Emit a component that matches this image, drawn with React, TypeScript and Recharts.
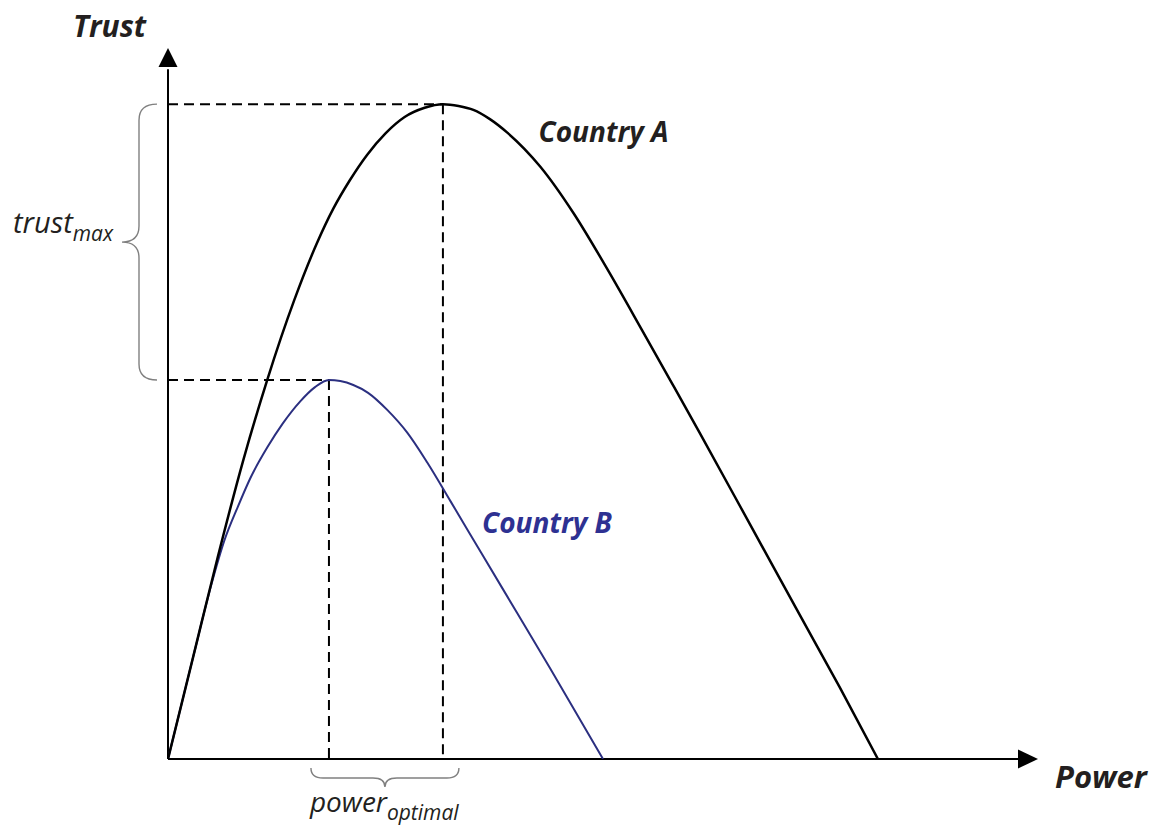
import { LineChart, Line, XAxis, YAxis, ReferenceLine, ReferenceDot } from 'recharts';

// values (power 0-100 along the x arrow, trust 0-100 up the y arrow)
const countryAPower = [0, 2.9, 5.7, 8.6, 11.4, 14.5, 17.1, 19.0, 20.9, 22.9, 25.0, 27.2, 29.5, 31.6, 33.4, 35.1, 37.0, 39.0, 42.8, 46.6, 50.5, 54.5, 57.9, 61.1, 66.9, 72.6, 77.2, 81.6];
const countryATrust = [0, 14.4, 28.3, 41.8, 53.3, 64.5, 72.5, 77.4, 81.4, 85.0, 88.0, 90.3, 91.6, 92.1, 91.85, 91.3, 90.0, 88.1, 83.3, 76.8, 68.9, 60.3, 52.9, 45.9, 33.0, 20.3, 10.1, 0];
const countryBPower = [0, 2.9, 5.0, 6.5, 8.0, 9.5, 11.4, 13.2, 15.2, 16.9, 18.5, 19.8, 21.3, 23.0, 25.2, 27.5, 29.8, 32.5, 36.0, 40.1, 43.9, 50.0];
const countryBTrust = [0, 14.4, 24.6, 30.8, 35.4, 39.6, 43.8, 47.2, 50.3, 52.3, 53.3, 53.15, 52.6, 51.5, 49.1, 45.9, 41.7, 36.2, 29.0, 20.6, 12.8, 0];

const peakA = { power: 31.6, trust: 92.1 };
const peakB = { power: 18.5, trust: 53.3 };

const countryA = countryAPower.map((p, i) => ({ power: p, trust: countryATrust[i] }));
const countryB = countryBPower.map((p, i) => ({ power: p, trust: countryBTrust[i] }));

const FONT = "'Open Sans', sans-serif";
const TEXT = '#231f20';
const BLUE = '#2e3192';
const BRACE = '#808080';

const UpArrow = ({ cx, cy }: any) => (
  <polygon points={`${cx},${cy} ${cx - 9.5},${cy + 19} ${cx + 9.5},${cy + 19}`} fill="#000" />
);

const RightArrow = ({ cx, cy }: any) => (
  <polygon points={`${cx},${cy} ${cx - 20},${cy - 9.5} ${cx - 20},${cy + 9.5}`} fill="#000" />
);

const LeftBrace = ({ x1, y1, y2 }: any) => {
  const top = Math.min(y1, y2);
  const bottom = Math.max(y1, y2);
  const mid = (top + bottom) / 2;
  const e = x1 - 11;
  const s = x1 - 29;
  const t = x1 - 46;
  const d = `M ${e} ${top} Q ${s} ${top} ${s} ${top + 16} L ${s} ${mid - 16} Q ${s} ${mid} ${t} ${mid} Q ${s} ${mid} ${s} ${mid + 16} L ${s} ${bottom - 16} Q ${s} ${bottom} ${e} ${bottom}`;
  return <path d={d} fill="none" stroke={BRACE} strokeWidth={1.4} />;
};

const BottomBrace = ({ x1, x2, y1 }: any) => {
  const l = Math.min(x1, x2) - 18;
  const r = Math.max(x1, x2) + 16;
  const mid = (l + r) / 2;
  const yEnd = y1 + 9;
  const ySpine = y1 + 19;
  const yTip = y1 + 28;
  const d = `M ${l} ${yEnd} Q ${l} ${ySpine} ${l + 12} ${ySpine} L ${mid - 12} ${ySpine} Q ${mid} ${ySpine} ${mid} ${yTip} Q ${mid} ${ySpine} ${mid + 12} ${ySpine} L ${r - 12} ${ySpine} Q ${r} ${ySpine} ${r} ${yEnd}`;
  return <path d={d} fill="none" stroke={BRACE} strokeWidth={1.4} />;
};

const textAt = (dx: number, dy: number, content: any, style: any) => ({ cx, cy }: any) => (
  <text x={cx + dx} y={cy + dy} fontFamily={FONT} {...style}>
    {content}
  </text>
);

const TrustTitle = textAt(-95, -11, 'Trust', { fontSize: 30, fontWeight: 700, fontStyle: 'italic', fill: TEXT });
const PowerTitle = textAt(17, 29, 'Power', { fontSize: 31, fontWeight: 700, fontStyle: 'italic', fill: TEXT });
const LabelA = textAt(0, 0, 'Country A', { fontSize: 28, fontWeight: 700, fontStyle: 'italic', fill: TEXT });
const LabelB = textAt(0, 0, 'Country B', { fontSize: 28, fontWeight: 700, fontStyle: 'italic', fill: BLUE });
const TrustMax = textAt(-155, -9, [
  <tspan key="a">trust</tspan>,
  <tspan key="b" fontSize={21} dy={8}>max</tspan>,
], { fontSize: 29, fontStyle: 'italic', fill: TEXT });
const PowerOptimal = textAt(-76, 53, [
  <tspan key="a">power</tspan>,
  <tspan key="b" fontSize={21} dy={8}>optimal</tspan>,
], { fontSize: 28, fontStyle: 'italic', fill: TEXT });

const App = () => {
  return (
    <div style={{ position: 'absolute', left: 0, top: 0, width: 1163, height: 825, background: '#fff' }}>
      <LineChart width={1163} height={825} margin={{ top: 48, right: 125, bottom: 66, left: 168 }}>
        <XAxis type="number" dataKey="power" domain={[0, 100]} hide allowDataOverflow />
        <YAxis type="number" dataKey="trust" domain={[0, 100]} hide allowDataOverflow />

        {/* dashed guides from the peaks */}
        <ReferenceLine segment={[{ x: 0, y: peakA.trust }, { x: peakA.power, y: peakA.trust }]} stroke="#000" strokeWidth={2} strokeDasharray="10 6" />
        <ReferenceLine segment={[{ x: peakA.power, y: peakA.trust }, { x: peakA.power, y: 0 }]} stroke="#000" strokeWidth={2} strokeDasharray="10 6" />
        <ReferenceLine segment={[{ x: 0, y: peakB.trust }, { x: peakB.power, y: peakB.trust }]} stroke="#000" strokeWidth={2} strokeDasharray="10 6" />
        <ReferenceLine segment={[{ x: peakB.power, y: peakB.trust }, { x: peakB.power, y: 0 }]} stroke="#000" strokeWidth={2} strokeDasharray="10 6" />

        {/* axes with arrows */}
        <ReferenceLine segment={[{ x: 0, y: 0 }, { x: 0, y: 97 }]} stroke="#000" strokeWidth={2} />
        <ReferenceLine segment={[{ x: 0, y: 0 }, { x: 97.8, y: 0 }]} stroke="#000" strokeWidth={2} />
        <ReferenceDot x={0} y={100} r={0} shape={UpArrow} ifOverflow="visible" />
        <ReferenceDot x={100} y={0} r={0} shape={RightArrow} ifOverflow="visible" />

        {/* braces */}
        <ReferenceLine segment={[{ x: 0, y: peakA.trust }, { x: 0, y: peakB.trust }]} shape={LeftBrace} ifOverflow="visible" />
        <ReferenceLine segment={[{ x: peakB.power, y: 0 }, { x: peakA.power, y: 0 }]} shape={BottomBrace} ifOverflow="visible" />

        <Line data={countryB} dataKey="trust" type="monotone" stroke="#2b2f80" strokeWidth={2} dot={false} activeDot={false} isAnimationActive={false} />
        <Line data={countryA} dataKey="trust" type="monotone" stroke="#000" strokeWidth={2.5} dot={false} activeDot={false} isAnimationActive={false} />

        {/* text */}
        <ReferenceDot x={0} y={100} r={0} shape={TrustTitle} ifOverflow="visible" />
        <ReferenceDot x={100} y={0} r={0} shape={PowerTitle} ifOverflow="visible" />
        <ReferenceDot x={42.6} y={86.8} r={0} shape={LabelA} ifOverflow="visible" />
        <ReferenceDot x={36.1} y={31.8} r={0} shape={LabelB} ifOverflow="visible" />
        <ReferenceDot x={0} y={(peakA.trust + peakB.trust) / 2} r={0} shape={TrustMax} ifOverflow="visible" />
        <ReferenceDot x={(peakA.power + peakB.power) / 2} y={0} r={0} shape={PowerOptimal} ifOverflow="visible" />
      </LineChart>
    </div>
  );
};

export default App;
